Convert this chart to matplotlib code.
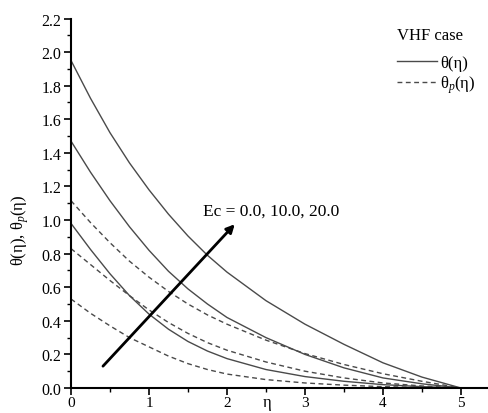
import matplotlib.pyplot as plt

plt.rcParams['font.family'] = ['Liberation Serif', 'DejaVu Serif']
plt.rcParams['mathtext.fontset'] = 'custom'
plt.rcParams['mathtext.rm'] = 'Liberation Serif'
plt.rcParams['mathtext.it'] = 'Liberation Serif:italic'

eta = [0, 0.25, 0.5, 0.75, 1.0, 1.25, 1.5, 1.75, 2.0, 2.5, 3.0, 3.5, 4.0, 4.5, 5.0]

# theta (solid), Ec = 0, 10, 20
theta_ec0 = [0.98, 0.825, 0.68, 0.55, 0.44, 0.35, 0.277, 0.22, 0.175, 0.11, 0.068, 0.04, 0.02, 0.008, 0.0]
theta_ec10 = [1.47, 1.285, 1.115, 0.96, 0.82, 0.695, 0.59, 0.50, 0.42, 0.30, 0.20, 0.12, 0.06, 0.025, 0.0]
theta_ec20 = [1.95, 1.725, 1.52, 1.34, 1.18, 1.035, 0.905, 0.79, 0.69, 0.52, 0.38, 0.26, 0.15, 0.065, 0.0]

# theta_p (dashed), Ec = 0, 10, 20
thetap_ec0 = [0.53, 0.445, 0.37, 0.30, 0.245, 0.19, 0.145, 0.11, 0.083, 0.05, 0.03, 0.017, 0.008, 0.003, 0.0]
thetap_ec10 = [0.83, 0.735, 0.64, 0.55, 0.465, 0.39, 0.325, 0.27, 0.225, 0.155, 0.10, 0.06, 0.03, 0.012, 0.0]
thetap_ec20 = [1.115, 0.985, 0.865, 0.755, 0.66, 0.575, 0.50, 0.435, 0.38, 0.285, 0.205, 0.14, 0.085, 0.04, 0.0]

arrow_start = (0.41, 0.13)
arrow_end = (2.10, 0.975)

fig = plt.figure(figsize=(4.89, 4.14), dpi=100)
ax = fig.add_axes([71 / 489, 25 / 414, 418 / 489, 369.5 / 414])

gray = '#4a4a4a'
dash = (3.5, 2.5)
for th in [theta_ec0, theta_ec10, theta_ec20]:
    ax.plot(eta, th, color=gray, lw=1.0)
for th in [thetap_ec0, thetap_ec10, thetap_ec20]:
    ax.plot(eta, th, color=gray, lw=1.0, dashes=dash)

# legend
h1, = ax.plot([], [], color=gray, lw=1.0, label='θ(η)')
h2, = ax.plot([], [], color=gray, lw=1.0, dashes=dash, label='θ$_p$(η)')
ax.legend(handles=[h1, h2], frameon=False, fontsize=12, handlelength=2.4,
          handletextpad=0.2, labelspacing=0.15, borderpad=0, borderaxespad=0,
          loc='upper left', bbox_to_anchor=(397 / 489, 1 - 56 / 414),
          bbox_transform=fig.transFigure)
fig.text(397 / 489, 1 - 36 / 414, 'VHF case', fontsize=12, ha='left', va='center')

ax.annotate('', xy=arrow_end, xytext=arrow_start,
            arrowprops=dict(arrowstyle='-|>', lw=2, color='black', mutation_scale=12,
                            shrinkA=0, shrinkB=0))
ax.text(1.69, 1.035, 'Ec = 0.0, 10.0, 20.0', fontsize=12.5, ha='left', va='baseline')

ax.set_xlim(0, 5.36)
ax.set_ylim(0, 2.2)
ax.set_xticks([0, 1, 2, 3, 4, 5])
ax.set_xticks([0.5, 1.5, 2.5, 3.5, 4.5], minor=True)
ax.set_yticks([0.0, 0.2, 0.4, 0.6, 0.8, 1.0, 1.2, 1.4, 1.6, 1.8, 2.0, 2.2])
ax.set_yticks([0.1 + 0.2 * i for i in range(11)], minor=True)
ax.set_yticklabels(['0.0', '0.2', '0.4', '0.6', '0.8', '1.0', '1.2', '1.4', '1.6', '1.8', '2.0', '2.2'])
ax.tick_params(which='major', direction='out', length=5, width=1.2, labelsize=11.5, pad=2)
ax.tick_params(which='minor', direction='out', length=3, width=1.0)
ax.tick_params(axis='x', which='major', pad=1, labelsize=11)

for s in ['top', 'right']:
    ax.spines[s].set_visible(False)
for s in ['left', 'bottom']:
    ax.spines[s].set_linewidth(1.5)

fig.text(267 / 489, 1 - 403 / 414, 'η', fontsize=12, ha='center', va='center')
fig.text(20 / 489, 1 - 230 / 414, 'θ(η), θ$_p$(η)', fontsize=12, rotation=90,
         ha='center', va='center')

fig.savefig('out.png', dpi=100)
